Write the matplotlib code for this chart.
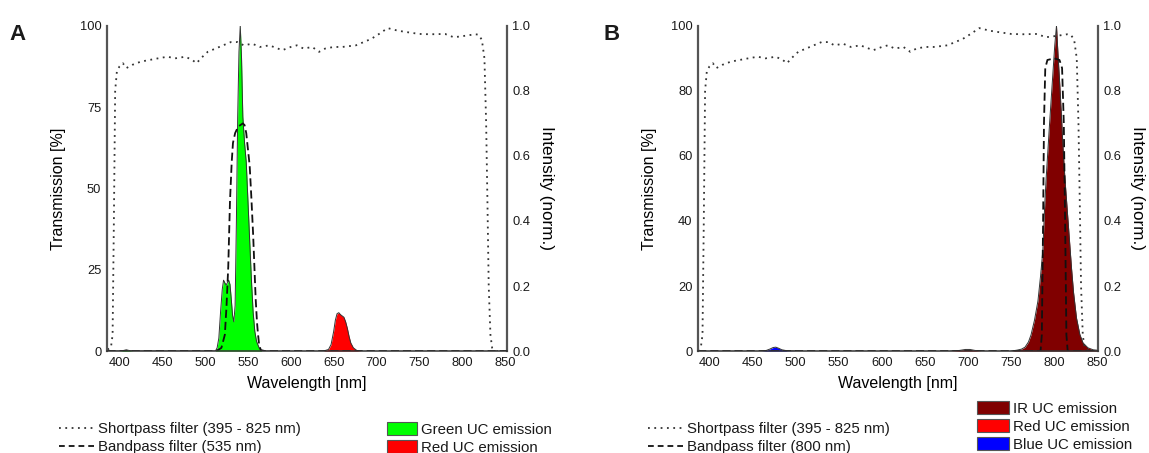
import matplotlib
matplotlib.use("Agg")
import matplotlib.pyplot as plt
from matplotlib.lines import Line2D
from matplotlib.patches import Patch

plt.rcParams["font.family"] = ["Liberation Sans", "DejaVu Sans"]
plt.rcParams["text.color"] = "#1a1a1a"

# shortpass filter (395 - 825 nm), same filter in both panels, transmission [%]
sp_nm = [386, 390, 392, 393.5, 395, 397, 400, 404, 408, 415, 425, 435, 445, 456, 465,
         477, 485, 490, 495, 503, 512, 521, 530, 538, 545, 555, 564, 575, 590, 600,
         607, 615, 625, 633, 640, 650, 660, 676, 685, 694, 703, 713, 725, 737, 750,
         763, 780, 790, 797, 805, 815, 819, 823, 826, 828, 829.5, 831, 833, 835, 840, 852]
sp_tr = [0.5, 1, 5, 40, 80, 86, 87.5, 88.5, 87, 88, 89, 89.5, 90, 90.5, 90,
         90.5, 89.5, 88.5, 90, 92, 93, 94, 95, 95, 94, 94.5, 93.5, 94, 92.5, 93.5,
         94, 93, 93.5, 92, 93, 93.5, 93.5, 94, 95, 96, 97.5, 99.3, 98.5, 98, 97.5,
         97.4, 97.5, 96.5, 96.7, 97, 97.4, 97.3, 95.7, 90, 70, 46, 20, 5, 1, 0, 0]

# bandpass filter (535 nm), panel A
bpA_nm = [386, 510, 515, 519, 523, 525, 527, 529, 531, 532.5, 535, 538.5, 544, 546,
          548, 550, 552, 554, 556, 557.5, 559, 560.5, 561.6, 563, 565, 570, 852]
bpA_tr = [0, 0, 0.3, 1, 5, 14, 26, 46, 58, 64, 67, 69, 70, 69.5,
          67, 62, 57, 47, 36, 26, 16, 9, 5.5, 2, 0.3, 0, 0]

# bandpass filter (800 nm), panel B
bpB_nm = [387, 784, 785.5, 787, 788, 789.5, 792, 800, 806, 809, 811, 812.5, 814, 815.5, 852]
bpB_tr = [0, 0, 5, 40, 70, 87, 89.5, 90, 89.5, 87, 70, 40, 5, 0, 0]

# emission spectra, normalised intensity
green_nm = [386, 400, 405, 408, 411, 416, 505, 512, 514, 516, 518, 520, 521.5, 523, 524.5,
            526, 527.5, 529, 530.5, 532, 533.5, 535, 536.5, 538, 539.5, 541, 542.5,
            544, 546, 548, 550, 552, 554, 556, 558, 560, 563, 566, 575]
green_int = [0, 0, 0.002, 0.004, 0.002, 0, 0, 0, 0.01, 0.04, 0.12, 0.19, 0.218, 0.21, 0.203,
             0.21, 0.218, 0.205, 0.16, 0.11, 0.09, 0.14, 0.40, 0.72, 0.92, 1.0, 0.90,
             0.72, 0.64, 0.58, 0.46, 0.34, 0.22, 0.12, 0.06, 0.03, 0.01, 0.0, 0]

redA_nm = [638, 644, 647, 650, 652, 654, 656, 658, 660, 662, 664, 666, 668, 670, 673, 677, 682]
redA_int = [0, 0.005, 0.02, 0.06, 0.095, 0.115, 0.118, 0.112, 0.108, 0.104, 0.09, 0.07,
            0.045, 0.025, 0.01, 0.002, 0]

ir_nm = [750, 757, 762, 766, 770, 773, 777, 781, 784, 786.7, 788.7, 790.5, 792.5, 794.5,
         796.5, 798.5, 800.5, 802.5, 804.3, 806.3, 808.3, 810.3, 812.3, 814.8, 817.3, 819.9, 822.3,
         825.7, 829.6, 833.3, 839, 845, 852]
ir_int = [0, 0.003, 0.006, 0.012, 0.028, 0.05, 0.095, 0.154, 0.23, 0.31, 0.44, 0.53, 0.615,
          0.70, 0.78, 0.86, 0.94, 1.0, 0.91, 0.82, 0.72, 0.615, 0.53, 0.44, 0.35, 0.256,
          0.18, 0.102, 0.051, 0.025, 0.01, 0.004, 0.002]

redB_nm = [680, 690, 697, 702, 708, 715]
redB_int = [0, 0.002, 0.005, 0.005, 0.002, 0]

blue_nm = [460, 466, 470, 474, 477, 480, 484, 490, 500]
blue_int = [0, 0.002, 0.006, 0.011, 0.012, 0.009, 0.004, 0.001, 0]

GREEN, RED, MAROON, BLUE = "#00ff00", "#ff0000", "#800000", "#0000ff"
SPINE = "#555555"
DOT = (0, (1, 2.5))
DASH = (0, (4.5, 2.2))
LEG_DASH = (0, (3.2, 2.2))


def draw_panel(pos, xlim, yticks, bp_nm, bp_tr, emissions):
    ax = fig.add_axes(pos)
    ax2 = ax.twinx()
    for nm, val, col in emissions:
        ax2.fill_between(nm, val, 0, color=col, linewidth=0)
        ax2.plot(nm, val, color="#333333", lw=0.7)
    ax.plot(sp_nm, sp_tr, color="#333333", lw=1.3, linestyle=DOT)
    ax.plot(bp_nm, bp_tr, color="#111111", lw=1.3, linestyle=DASH)
    ax.set_zorder(ax2.get_zorder() + 1)
    ax.patch.set_visible(False)

    ax.set_xlim(*xlim)
    ax.set_ylim(0, 100)
    ax2.set_ylim(0, 1.0)
    ax.set_xticks(range(400, 851, 50))
    ax.set_yticks(yticks)
    ax2.set_yticks([0.0, 0.2, 0.4, 0.6, 0.8, 1.0])
    ax2.set_yticklabels(["0.0", "0.2", "0.4", "0.6", "0.8", "1.0"])
    for a in (ax, ax2):
        a.tick_params(length=0, labelsize=9.3, pad=4, labelcolor="#1a1a1a")
        a.spines["top"].set_visible(False)
    ax.spines["right"].set_visible(False)
    ax2.spines["left"].set_visible(False)
    ax2.spines["bottom"].set_visible(False)
    ax.spines["left"].set_color(SPINE)
    ax.spines["left"].set_linewidth(1.6)
    ax2.spines["right"].set_color(SPINE)
    ax2.spines["right"].set_linewidth(1.6)
    ax.spines["bottom"].set_color("#333333")
    ax.spines["bottom"].set_linewidth(1.1)

    ax.set_xlabel("Wavelength [nm]", fontsize=11.5, labelpad=5)
    ax.set_ylabel("Transmission [%]", fontsize=11.5, labelpad=10)
    ax2.set_ylabel("Intensity (norm.)", fontsize=12.3, rotation=270, labelpad=17)
    return ax


fig = plt.figure(figsize=(11.49, 4.53), dpi=100)

draw_panel([0.093, 0.225, 0.348, 0.718], (385.3, 852.0), [0, 25, 50, 75, 100],
           bpA_nm, bpA_tr, [(green_nm, green_int, GREEN), (redA_nm, redA_int, RED)])
draw_panel([0.6075, 0.225, 0.348, 0.718], (386.8, 850.5), [0, 20, 40, 60, 80, 100],
           bpB_nm, bpB_tr, [(ir_nm, ir_int, MAROON), (redB_nm, redB_int, RED),
                            (blue_nm, blue_int, BLUE)])

fig.text(18 / 1149, 1 - 34 / 453, "A", fontsize=16, fontweight="bold", ha="center", va="center")
fig.text(612 / 1149, 1 - 34 / 453, "B", fontsize=16, fontweight="bold", ha="center", va="center")

leg_kw = dict(frameon=False, fontsize=10.8, loc="upper left", borderpad=0,
              borderaxespad=0)


def line_legend(x, y, band):
    h = [Line2D([], [], color="#333333", lw=1.3, linestyle=DOT),
         Line2D([], [], color="#111111", lw=1.3, linestyle=LEG_DASH)]
    labels = ["Shortpass filter (395 - 825 nm)", f"Bandpass filter ({band} nm)"]
    fig.legend(h, labels, bbox_to_anchor=(x, y), handlelength=2.35,
               handletextpad=0.25, labelspacing=0.25, **leg_kw)


def patch_legend(x, y, items, spacing, width):
    h = [Patch(facecolor=c, edgecolor="#555555", linewidth=0.8) for c, _ in items]
    fig.legend(h, [t for _, t in items], bbox_to_anchor=(x, y), handlelength=width,
               handleheight=0.95, handletextpad=0.28, labelspacing=spacing, **leg_kw)


line_legend(59 / 1149, 1 - 422 / 453, 535)
line_legend(648 / 1149, 1 - 422 / 453, 800)
patch_legend(387 / 1149, 1 - 422 / 453,
             [(GREEN, "Green UC emission"), (RED, "Red UC emission")], 0.22, 2.0)
patch_legend(977 / 1149, 1 - 401 / 453,
             [(MAROON, "IR UC emission"), (RED, "Red UC emission"),
              (BLUE, "Blue UC emission")], 0.24, 2.15)

fig.savefig("out.png", dpi=100)
